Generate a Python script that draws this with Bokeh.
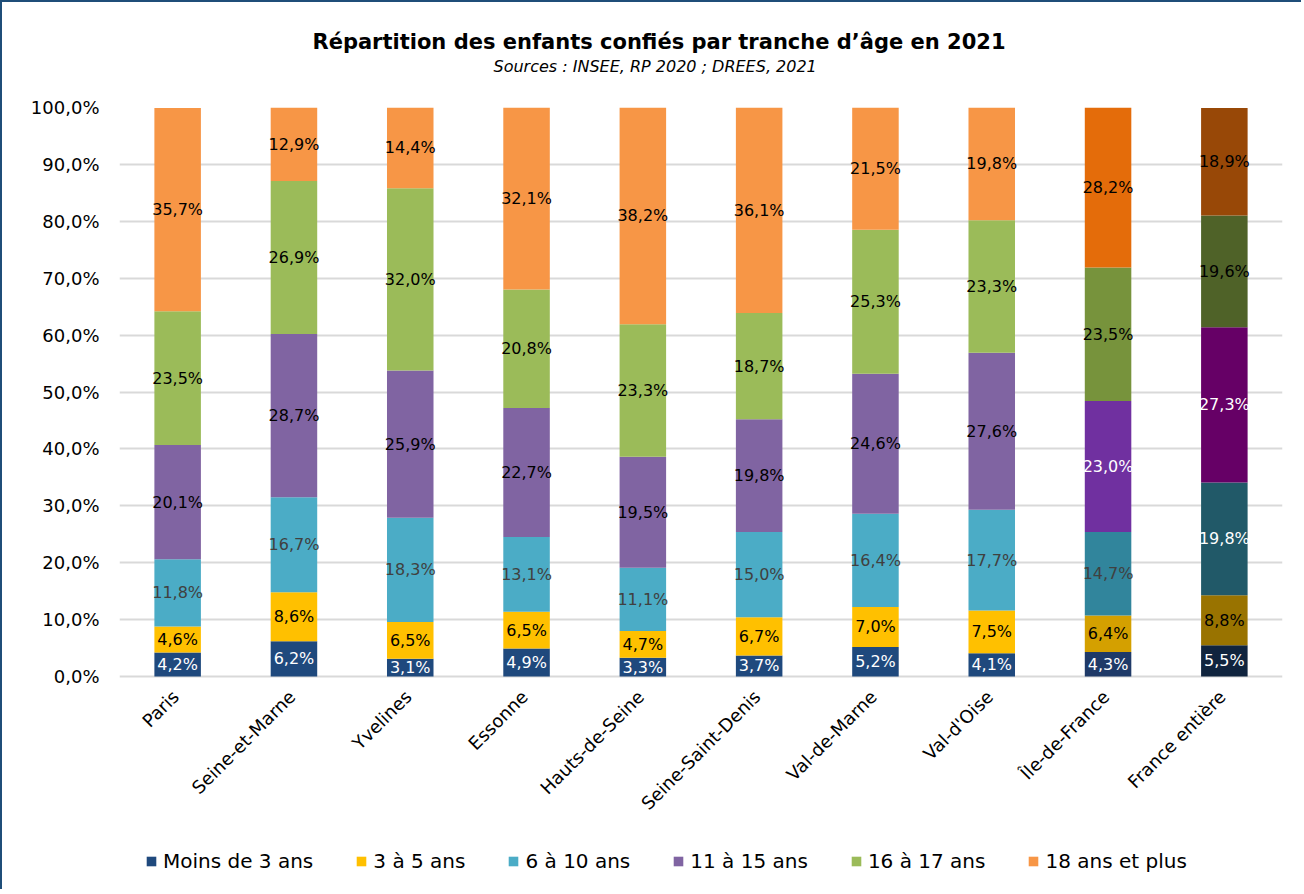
import numpy as np
from bokeh.plotting import figure
from bokeh.models import (ColumnDataSource, FixedTicker, Legend, LegendItem, Title)
from bokeh.core.properties import value
from bokeh.embed import file_html
from bokeh.resources import INLINE

# ---- data ----
categories = ["Paris", "Seine-et-Marne", "Yvelines", "Essonne", "Hauts-de-Seine",
              "Seine-Saint-Denis", "Val-de-Marne", "Val-d'Oise", "Île-de-France", "France entière"]
series = ["Moins de 3 ans", "3 à 5 ans", "6 à 10 ans", "11 à 15 ans", "16 à 17 ans", "18 ans et plus"]
moins_3 = [4.2, 6.2, 3.1, 4.9, 3.3, 3.7, 5.2, 4.1, 4.3, 5.5]
a_3_5 = [4.6, 8.6, 6.5, 6.5, 4.7, 6.7, 7.0, 7.5, 6.4, 8.8]
a_6_10 = [11.8, 16.7, 18.3, 13.1, 11.1, 15.0, 16.4, 17.7, 14.7, 19.8]
a_11_15 = [20.1, 28.7, 25.9, 22.7, 19.5, 19.8, 24.6, 27.6, 23.0, 27.3]
a_16_17 = [23.5, 26.9, 32.0, 20.8, 23.3, 18.7, 25.3, 23.3, 23.5, 19.6]
plus_18 = [35.7, 12.9, 14.4, 32.1, 38.2, 36.1, 21.5, 19.8, 28.2, 18.9]
values = [moins_3, a_3_5, a_6_10, a_11_15, a_16_17, plus_18]
y_ticks = [0, 10, 20, 30, 40, 50, 60, 70, 80, 90, 100]
y_tick_labels = ["0,0%", "10,0%", "20,0%", "30,0%", "40,0%", "50,0%", "60,0%", "70,0%", "80,0%", "90,0%", "100,0%"]

# colours: departments / Île-de-France / France entière
base_colors = ["#1F497D", "#FFC000", "#4BACC6", "#8064A2", "#9BBB59", "#F79646"]
idf_colors = ["#1F3A68", "#D4A000", "#31859C", "#7030A0", "#77933C", "#E46C0A"]
fr_colors = ["#10243E", "#997300", "#215968", "#660066", "#4F6228", "#984807"]
base_text = ["#FFFFFF", "#000000", "#404040", "#000000", "#000000", "#000000"]
idf_text = ["#FFFFFF", "#000000", "#404040", "#FFFFFF", "#000000", "#000000"]
fr_text = ["#FFFFFF", "#000000", "#FFFFFF", "#FFFFFF", "#000000", "#000000"]

FONT = "DejaVu Sans"

# layout: the plot frame runs down to the bottom of the page so that the
# category labels and the legend can live inside it (below the 0 % line)
BAR_H = 569          # pixels between 0 % and 100 %
FRAME_H = 778        # full frame height
y_start = -100.0 * (FRAME_H - BAR_H) / BAR_H

p = figure(x_range=categories, y_range=(y_start, 100), frame_width=1163, frame_height=FRAME_H,
           output_backend="svg", toolbar_location=None,
           min_border_left=117, min_border_right=19, min_border_top=105, min_border_bottom=4,
           background_fill_color="white", border_fill_color="white")
p.styles = {"border-top": "2px solid #1F4E79", "border-left": "2px solid #1F4E79"}
p.outline_line_color = None

# titles (spacer first: it sits closest to the frame)
p.add_layout(Title(text=" ", text_font_size="26px", standoff=0), "above")
p.add_layout(Title(text="Sources : INSEE, RP 2020 ; DREES, 2021",
                   text_font=FONT, text_font_style="italic", text_font_size="16px",
                   align="left", offset=374, text_color="#000000", standoff=0), "above")
p.title.text = "Répartition des enfants confiés par tranche d’âge en 2021"
p.title.text_font = FONT
p.title.text_font_style = "bold"
p.title.text_font_size = "21px"
p.title.text_color = "#000000"
p.title.align = "left"
p.title.offset = 193
p.title.standoff = 2

bottom = np.zeros(len(categories))
legend_items = []
for i, (name, vals) in enumerate(zip(series, values)):
    vals = np.array(vals)
    top = bottom + vals
    fills = [base_colors[i]] * (len(categories) - 2) + [idf_colors[i], fr_colors[i]]
    tcols = [base_text[i]] * (len(categories) - 2) + [idf_text[i], fr_text[i]]
    src = ColumnDataSource(dict(
        x=categories, bottom=bottom.copy(), top=top.copy(), mid=(bottom + top) / 2,
        fill=fills, tcol=tcols,
        label=[f"{v:.1f}".replace(".", ",") + "%" for v in vals]))
    r = p.vbar(x="x", bottom="bottom", top="top", width=0.4, fill_color="fill",
               line_color=None, source=src)
    legend_items.append(LegendItem(label=name, renderers=[r], index=0))
    p.text(x="x", y="mid", text="label", source=src, text_align="center",
           text_baseline="middle", text_font=value(FONT), text_font_size="16px",
           text_color="tcol")
    bottom = top

# category labels, rotated 45°, hanging under the 0 % line
cat_src = ColumnDataSource(dict(x=categories, y=[0] * len(categories), t=categories))
p.text(x="x", y="y", text="t", source=cat_src, angle=np.pi / 4, text_align="right",
       text_baseline="middle", x_offset=-2, y_offset=17, text_font=value(FONT),
       text_font_size="18px", text_color="#000000")

# axes
p.xaxis.visible = False
p.yaxis.ticker = FixedTicker(ticks=y_ticks)
p.yaxis.major_label_overrides = {t: l for t, l in zip(y_ticks, y_tick_labels)}
p.yaxis.axis_line_color = None
p.yaxis.major_tick_line_color = None
p.yaxis.minor_tick_line_color = None
p.yaxis.major_label_text_font = FONT
p.yaxis.major_label_text_font_size = "18px"
p.yaxis.major_label_text_color = "#000000"
p.yaxis.major_label_standoff = 14
p.xgrid.grid_line_color = None
p.ygrid.ticker = FixedTicker(ticks=y_ticks)
p.ygrid.grid_line_color = "#D9D9D9"
p.ygrid.grid_line_width = 2
p.x_range.range_padding = 0.0

legend = Legend(items=legend_items, orientation="horizontal", location=(26, 12),
                label_text_font=FONT, label_text_font_size="20px", label_text_color="#000000",
                glyph_width=12, glyph_height=12, label_standoff=6, spacing=42,
                border_line_color=None, background_fill_alpha=0, margin=0, padding=0)
p.add_layout(legend, "center")

open("out.html", "w").write(file_html(p, INLINE))
